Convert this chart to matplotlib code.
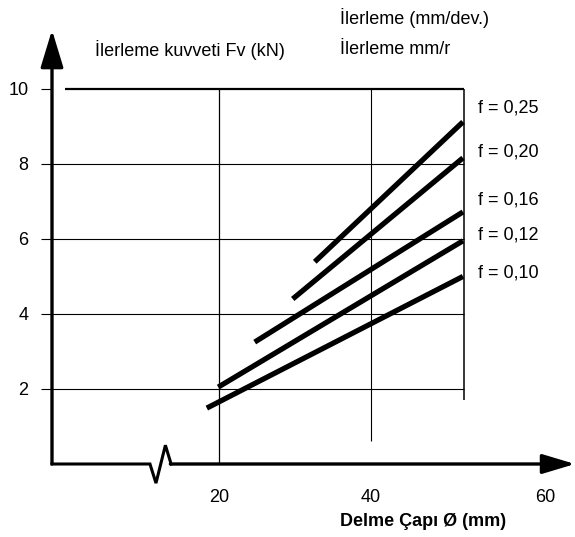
import matplotlib.pyplot as plt

# feed rate curves: Fv (kN) against drill diameter (mm)
feed_labels = ['f = 0,10', 'f = 0,12', 'f = 0,16', 'f = 0,20', 'f = 0,25']
diam_start = [18.4, 19.9, 24.7, 29.7, 32.6]
diam_end = [52.1, 52.1, 52.1, 52.1, 52.1]
force_start = [1.49, 2.05, 3.25, 4.40, 5.39]
force_end = [5.00, 5.95, 6.72, 8.16, 9.12]
label_y = [5.09, 6.11, 7.04, 8.32, 9.49]

y_ticks = [2, 4, 6, 8, 10]
x_ticks = [20, 40, 62.9]
x_tick_labels = ['20', '40', '60']

W, H = 575, 537
font = ['Liberation Sans', 'DejaVu Sans']

fig = plt.figure(figsize=(W / 100, H / 100), dpi=100)
ax = fig.add_axes([52 / W, (H - 464) / H, (W - 52) / W, (464 - 30) / H])
ax.set_xlim(-1.97, 66.84)
ax.set_ylim(0, 11.57)
for s in ax.spines.values():
    s.set_visible(False)

# ticks
ax.set_yticks(y_ticks)
ax.set_yticklabels([str(v) for v in y_ticks], fontsize=13, family=font)
ax.tick_params(axis='y', length=8, width=0.8, pad=9)
ax.set_xticks(x_ticks)
ax.set_xticklabels(x_tick_labels, fontsize=13, family=font)
ax.tick_params(axis='x', length=0, pad=18)

# grid / frame
x_right = 52.2
ax.hlines([2, 4, 6, 8], -1.97, x_right, color='black', lw=0.8)
ax.hlines(10, -0.3, x_right, color='black', lw=1.6)
ax.vlines(20, 0, 10, color='black', lw=0.9)
ax.vlines(40, 0.6, 10, color='black', lw=0.8)
ax.vlines(x_right, 1.7, 10, color='black', lw=1.1)

# axes with arrows
ax.annotate('', xy=(0, 1), xytext=(0, 0), xycoords='axes fraction',
            arrowprops=dict(arrowstyle='-|>,head_length=2.3,head_width=0.7',
                            mutation_scale=10, lw=2.4, color='black',
                            shrinkA=0, shrinkB=0), annotation_clip=False)
ax.plot([-1.97, 10.92, 11.71, 12.95, 13.7], [0, 0, -0.51, 0.5, 0],
        color='black', lw=2.2, clip_on=False, solid_joinstyle='miter')
ax.annotate('', xy=(66.84, 0), xytext=(13.6, 0), xycoords='data',
            arrowprops=dict(arrowstyle='-|>,head_length=2.0,head_width=0.6',
                            mutation_scale=10, lw=2.4, color='black',
                            shrinkA=0, shrinkB=0), annotation_clip=False)

# feed curves
for x0, x1, y0, y1, lab, ly in zip(diam_start, diam_end, force_start, force_end,
                                   feed_labels, label_y):
    ax.plot([x0, x1], [y0, y1], color='black', lw=3.8, solid_capstyle='butt')
    ax.text(54.1, ly, lab, fontsize=13, family=font, va='center', ha='left')

# titles
fig.text(95 / W, 1 - 50 / H, 'İlerleme kuvveti Fv (kN)', fontsize=13,
         family=font, va='center', ha='left')
fig.text(340 / W, 1 - 18 / H, 'İlerleme (mm/dev.)', fontsize=13,
         family=font, va='center', ha='left')
fig.text(340 / W, 1 - 50 / H, 'İlerleme mm/r', fontsize=13,
         family=font, va='center', ha='left')
fig.text(340 / W, 1 - 521 / H, 'Delme Çapı Ø (mm)', fontsize=13,
         family=font, weight='bold', va='center', ha='left')

fig.savefig('out.png', dpi=100)
